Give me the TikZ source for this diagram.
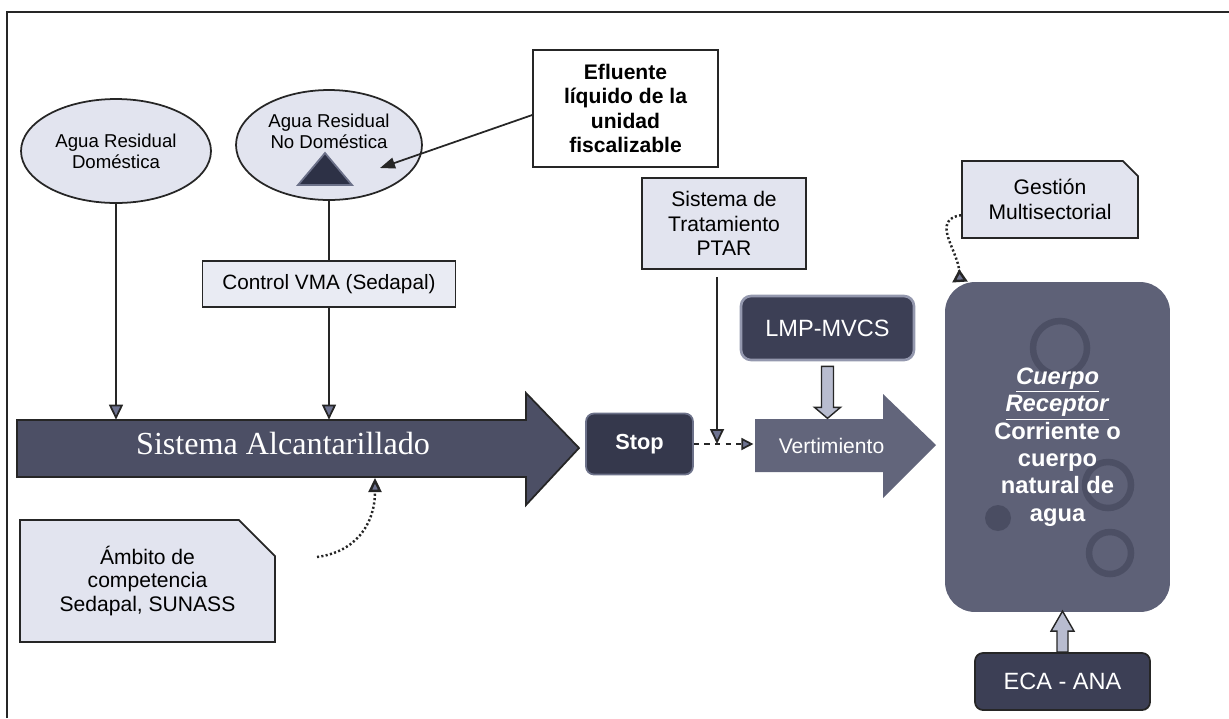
\documentclass[tikz,border=0pt]{standalone}
\usepackage{fontspec}
\setmainfont{Liberation Sans}
\newfontfamily\alcfont{Liberation Serif}
\usetikzlibrary{shapes.geometric,shapes.misc,arrows.meta,positioning}

\definecolor{edge}{HTML}{262626}
\definecolor{lightfill}{HTML}{E2E4EF}
\definecolor{vmafill}{HTML}{E9EBF3}
\definecolor{darkfill}{HTML}{3C3F55}
\definecolor{stopfill}{HTML}{35384C}
\definecolor{lmprim}{HTML}{9498AE}
\definecolor{alcfill}{HTML}{4C4F65}
\definecolor{vertfill}{HTML}{62657B}
\definecolor{cuerpofill}{HTML}{5E6177}
\definecolor{ringcol}{HTML}{3E4155}
\definecolor{tipgray}{HTML}{6E7390}
\definecolor{blockfill}{HTML}{B8BCCF}
\definecolor{trifill}{HTML}{2D3146}
\definecolor{tririm}{HTML}{6C7189}

\tikzset{
  lightbox/.style={draw=edge, fill=lightfill, line width=1pt, align=center, inner sep=0pt},
  darkbox/.style={draw=edge, fill=darkfill, rounded corners=0.16cm, text=white, align=center, line width=1pt, inner sep=0pt},
  snipbox/.style={chamfered rectangle, chamfered rectangle corners=north east},
  link/.style={draw=edge, line width=1pt},
  greytip/.style={-{Triangle[length=0.3cm,width=0.28cm,fill=tipgray]}},
  dots/.style={draw=edge, line width=1.4pt, dash pattern=on 1.2pt off 1.3pt},
  blockarrow/.style={draw=edge, fill=blockfill, line width=0.8pt, line join=miter},
}

\begin{document}
\begin{tikzpicture}[x=0.02cm,y=-0.02cm]
    \useasboundingbox (0,0) rectangle (1229,718);
    % frame
    \draw[edge, line width=1.1pt] (7,718) -- (7,12) -- (1229,12);

    % sources
    \node[ellipse, lightbox, minimum width=3.8cm, minimum height=2.08cm, font=\fontsize{10.6}{11.9}\selectfont] (ARD) at (116,151) {Agua Residual\\Doméstica};
    \node[ellipse, lightbox, minimum width=3.72cm, minimum height=2.2cm] (ARND) at (329,145) {};
    \node[align=center, inner sep=0pt, font=\fontsize{10.6}{11.9}\selectfont] (ARNDtxt) at (329,131) {Agua Residual\\No Doméstica};
    \draw[fill=trifill, draw=tririm, line width=1pt] (298,185) -- (325,153) -- (352,185) -- cycle;

    \node[draw=edge, fill=white, line width=1pt, minimum width=3.7cm, minimum height=2.34cm, align=center, inner sep=0pt, font=\bfseries\fontsize{12}{13.9}\selectfont] (EFL) at (625.5,108.5) {Efluente\\líquido de la\\unidad\\fiscalizable};
    \coordinate (TRI) at (380,168);
    \draw[link, -{Triangle[length=0.3cm,width=0.22cm]}] (EFL.184) -- (TRI);

    \node[lightbox, fill=vmafill, minimum width=5.06cm, minimum height=0.92cm, font=\fontsize{11.8}{13}\selectfont] (VMA) at (329,284) {Control VMA (Sedapal)};

    % sewer system
    \draw[fill=alcfill, draw=edge, line width=1pt] (17,420) -- (526,420) -- (526,393) -- (579,448) -- (526,505) -- (526,477) -- (17,477) -- cycle;
    \node[minimum width=2cm, minimum height=0.92cm, inner sep=0pt, text=white, font=\alcfont\fontsize{18.3}{20}\selectfont] (ALC) at (283,443) {Sistema Alcantarillado};

    \draw[link, greytip] (ARD) -- (ARD |- ALC.north);
    \draw[link] (ARND) -- (VMA);
    \draw[link, greytip] (VMA) -- (VMA |- ALC.north);

    \node[snipbox, chamfered rectangle xsep=0.36cm, chamfered rectangle ysep=0.36cm, lightbox, minimum width=5.1cm, minimum height=2.44cm, font=\fontsize{12}{13.6}\selectfont] (AMB) at (147.5,581) {Ámbito de\\competencia\\Sedapal, SUNASS};
    \coordinate (AMBFROM) at (317,557);
    \coordinate (AMBTO) at (375,478);
    \draw[dots, -{Triangle[length=0.28cm,width=0.26cm,fill=tipgray]}] (AMBFROM) .. controls (355,552) and (375,525) .. (AMBTO);

    % discharge
    \node[darkbox, fill=stopfill, draw=tririm, minimum width=2.14cm, minimum height=1.22cm, font=\bfseries\fontsize{12.4}{14}\selectfont] (STOP) at (639.5,444) {Stop};

    \draw[fill=vertfill, draw=none] (755,419) -- (883,419) -- (883,394) -- (936,445) -- (883,498) -- (883,472) -- (755,472) -- cycle;
    \node[minimum width=2.56cm, minimum height=1.06cm, inner sep=0pt, text=white, font=\fontsize{12}{14}\selectfont] (VERT) at (819,445.5) {\hspace{0.5cm}Vertimiento};

    \draw[link, dashed, -{Triangle[length=0.24cm,width=0.24cm,fill=tipgray]}] (STOP.east) -- (STOP.east -| VERT.west);

    \node[lightbox, minimum width=3.28cm, minimum height=1.82cm, font=\fontsize{12}{13.9}\selectfont] (PTAR) at (724,223.5) {Sistema de\\Tratamiento\\PTAR};
    \coordinate (PTARout) at ([xshift=-0.14cm]PTAR.south);
    \draw[link, greytip, shorten <=0.14cm] (PTARout) -- (PTARout |- STOP.east);

    \node[darkbox, draw=lmprim, line width=1.5pt, rounded corners=0.2cm, minimum width=3.46cm, minimum height=1.28cm, font=\fontsize{13.4}{15}\selectfont] (LMP) at (827.5,328) {LMP-MVCS};
    \draw[blockarrow, shift={(LMP.south)}] (-6,5) -- (6,5) -- (6,46) -- (13,46) -- (0,57) -- (-13,46) -- (-6,46) -- cycle;

    % receiving body
    \node[fill=cuerpofill, rounded corners=0.6cm, minimum width=4.5cm, minimum height=6.6cm, inner sep=0pt] (CUER) at (1057.5,447) {};
    \foreach \cx/\cy/\r in {1060/348/27, 1108/485/23, 1110/553/21}
        \draw[ringcol, line width=0.13cm, opacity=0.55] (\cx,\cy) circle (\r);
    \fill[ringcol, opacity=0.6] (998,518) circle (13);
    \node[text=white, align=center, inner sep=0pt, font=\bfseries\fontsize{13.5}{15.6}\selectfont] (CUERtxt) at (CUER) {\underline{\textit{Cuerpo}}\\\underline{\textit{Receptor}}\\Corriente o\\cuerpo\\natural de\\agua};

    \node[snipbox, chamfered rectangle xsep=0.16cm, chamfered rectangle ysep=0.14cm, lightbox, minimum width=3.52cm, minimum height=1.54cm, font=\fontsize{12}{14.2}\selectfont] (GEST) at (1050,199.5) {Gestión\\Multisectorial};
    \coordinate (GESTTO) at (960,282);
    \draw[dots, -{Triangle[reversed,length=0.26cm,width=0.3cm,fill=tipgray]}] (GEST.190) .. controls (930,220) and (958,250) .. (GESTTO);

    \node[darkbox, minimum width=3.5cm, minimum height=1.14cm, font=\fontsize{13.4}{15}\selectfont] (ECA) at (1062.5,681.5) {ECA - ANA};
    \draw[blockarrow, shift={(ECA.north)}] (-5.5,0) -- (5.5,0) -- (5.5,-21) -- (11.5,-21) -- (0,-41) -- (-11.5,-21) -- (-5.5,-21) -- cycle;

\end{tikzpicture}
\end{document}
